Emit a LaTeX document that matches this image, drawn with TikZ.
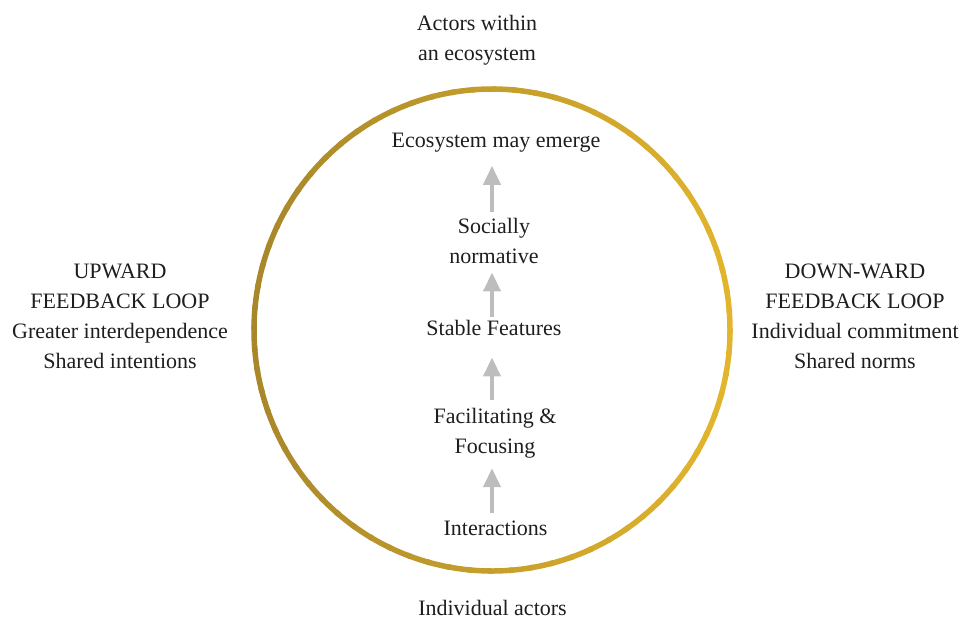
\documentclass[tikz,border=0pt]{standalone}
\usepackage{fontspec}
\setmainfont{Liberation Serif}
\usetikzlibrary{arrows.meta}
\definecolor{golddark}{HTML}{A8872A}
\definecolor{goldlight}{HTML}{E2B52C}
\definecolor{arrowgray}{HTML}{BDBDBD}
\definecolor{inktext}{HTML}{1E1E1E}
\tikzset{
  label text/.style={inner sep=0pt, align=center, text=inktext,
    font=\fontsize{22}{30}\selectfont},
  uparrow/.style={draw=arrowgray, line width=4pt,
    -{Triangle[width=17pt,length=19pt]}}
}
\begin{document}
\begin{tikzpicture}[x=1pt,y=-1pt]
\useasboundingbox (0,0) rectangle (961,619);

% gold ring, shaded from a darker tone on the left to a brighter one on the right
\coordinate (hub) at (492,330);
\foreach \a in {0,5,...,355}{
  \pgfmathtruncatemacro{\p}{round(50*(1-cos(\a)))}
  \draw[line width=5.5pt, color=golddark!\p!goldlight]
    ([shift={(\a:238 and 241)}]hub) arc[start angle=\a, end angle=\a+6,
      x radius=238, y radius=241];
}

% text labels
\node[label text] (top)   at (477,40)    {Actors within\\an ecosystem};
\node[label text] (eco)   at (496,143)   {Ecosystem may emerge};
\node[label text] (soc)   at (494,240.5) {Socially\\normative};
\node[label text] (stab)  at (494,327.5) {Stable Features};
\node[label text] (facil) at (495,433)   {Facilitating \&\\Focusing};
\node[label text] (inter) at (495.5,528) {Interactions};
\node[label text] (indiv) at (492.5,607.5) {Individual actors};
\node[label text] (left)  at (120,316.7) {UPWARD\\FEEDBACK LOOP\\Greater interdependence\\Shared intentions};
\node[label text] (right) at (855,316.7) {DOWN-WARD\\FEEDBACK LOOP\\Individual commitment\\Shared norms};

% upward arrows between the stages
\draw[uparrow, shorten <=7pt,  shorten >=10pt] (inter.north -| hub) -- (facil.south -| hub);
\draw[uparrow, shorten <=8pt,  shorten >=22pt] (facil.north -| hub) -- (stab.south -| hub);
\draw[uparrow, shorten <=3pt,  shorten >=9pt]  (stab.north -| hub)  -- (soc.south -| hub);
\draw[uparrow, shorten <=6pt,  shorten >=13pt] (soc.north -| hub)   -- (eco.south -| hub);
\end{tikzpicture}
\end{document}
